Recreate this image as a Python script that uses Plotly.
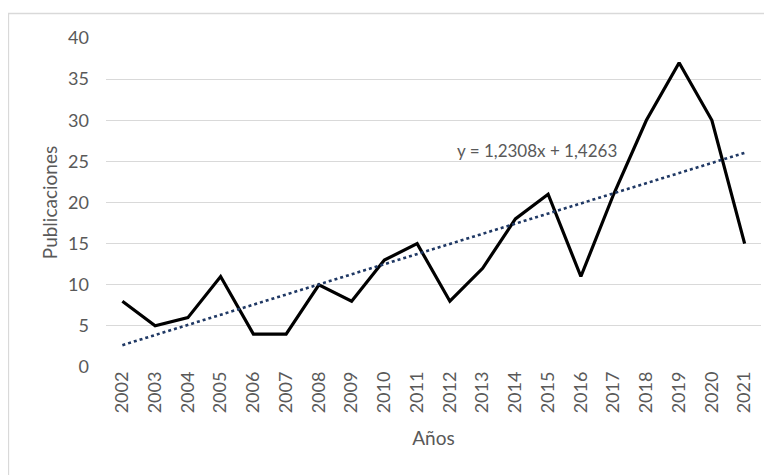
import plotly.graph_objects as go

years = [str(y) for y in range(2002, 2022)]
publicaciones = [8, 5, 6, 11, 4, 4, 10, 8, 13, 15, 8, 12, 18, 21, 11, 21, 30, 37, 30, 15]
trend_slope = 1.2308
trend_intercept = 1.4263
trend_label = "y = 1,2308x + 1,4263"
y_ticks = [0, 5, 10, 15, 20, 25, 30, 35, 40]

x_idx = list(range(1, len(years) + 1))
trend = [trend_slope * x + trend_intercept for x in x_idx]

FONT = "Lato, Carlito, Calibri, sans-serif"
GRAY = "#595959"

# the page body has an 8px margin: figure occupies page x 8..772, y 8..475
PLOT_L, PLOT_R, PLOT_T, PLOT_B = 106, 761, 38, 367  # page pixel coords of plot area
W, H = 764, 467
pw, ph = PLOT_R - PLOT_L, PLOT_B - PLOT_T


def px(xp):
    return (xp - PLOT_L) / pw


def py(yp):
    return (PLOT_B - yp) / ph


fig = go.Figure()
fig.add_trace(go.Scatter(x=x_idx, y=publicaciones, mode="lines",
                         line=dict(color="#000000", width=3.2), showlegend=False))
fig.add_trace(go.Scatter(x=x_idx, y=trend, mode="lines",
                         line=dict(color="#1F3864", width=2.6, dash="dot"), showlegend=False))

fig.update_layout(
    width=W, height=H,
    margin=dict(l=PLOT_L - 8, r=W - (PLOT_R - 8), t=PLOT_T - 8, b=H - (PLOT_B - 8)),
    paper_bgcolor="white", plot_bgcolor="white",
    font=dict(family=FONT, color=GRAY, size=18),
    xaxis=dict(range=[0.5, 20.5], tickmode="array", tickvals=x_idx, ticktext=years,
               tickangle=-90, showgrid=False, zeroline=False, showline=False,
               ticks="", tickfont=dict(size=18, color=GRAY),
               title=dict(text="Años", font=dict(size=19, color=GRAY), standoff=19)),
    yaxis=dict(range=[0, 40], tickmode="array", tickvals=y_ticks,
               showgrid=True, gridcolor="#D9D9D9", gridwidth=1, zeroline=False,
               showline=False, ticks="", ticklabelstandoff=16,
               tickfont=dict(size=18, color=GRAY),
               title=dict(text="Publicaciones", font=dict(size=19, color=GRAY), standoff=5)),
    annotations=[dict(text=trend_label, x=px((455 + 618) / 2), y=py(138),
                      xref="paper", yref="paper", showarrow=False,
                      font=dict(size=17, color=GRAY))],
    shapes=[dict(type="rect", xref="paper", yref="paper",
                 x0=px(8.5), x1=px(790), y0=py(500), y1=py(13.5),
                 line=dict(color="#D9D9D9", width=1.3), layer="below")],
)
fig.write_html("out.html")
